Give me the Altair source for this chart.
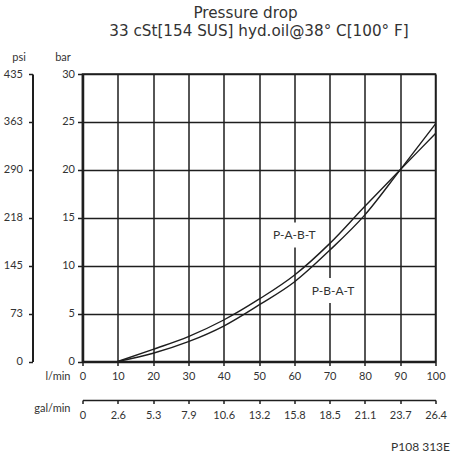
import altair as alt
import pandas as pd

# ---- data ----
flow_lpm = [10, 20, 30, 40, 50, 60, 70, 80, 90, 100]
dp_pabt = [0, 1.27, 2.6, 4.33, 6.5, 9.0, 12.3, 16.2, 20.0, 23.8]   # P-A-B-T
dp_pbat = [0, 0.86, 2.07, 3.7, 5.9, 8.3, 11.6, 15.3, 20.0, 24.8]   # P-B-A-T

x_ticks = [0, 10, 20, 30, 40, 50, 60, 70, 80, 90, 100]
gal_labels = ["0", "2.6", "5.3", "7.9", "10.6", "13.2", "15.8", "18.5", "21.1", "23.7", "26.4"]
bar_ticks = [0, 5, 10, 15, 20, 25, 30]
psi_labels = ["0", "73", "145", "218", "290", "363", "435"]

label_names = ["P-A-B-T", "P-B-A-T"]
label_x = [60, 71]
label_y = [13.2, 7.4]

FONT = "Lato"
TFONT = "DejaVu Sans"
DARK = "#1e1e1e"

rows = []
for f, a, b in zip(flow_lpm, dp_pabt, dp_pbat):
    rows.append({"flow": f, "dp": a, "series": "P-A-B-T"})
    rows.append({"flow": f, "dp": b, "series": "P-B-A-T"})
curves = pd.DataFrame(rows)
labels = pd.DataFrame({"name": label_names, "flow": label_x, "dp": label_y})

xs = alt.Scale(domain=[0, 100], nice=False, zero=False)
ys = alt.Scale(domain=[0, 30], nice=False, zero=False)

gal_expr = "[" + ",".join("'%s'" % s for s in gal_labels) + "][round(datum.value/10)]"
psi_expr = "[" + ",".join("'%s'" % s for s in psi_labels) + "][round(datum.value/5)]"

lines = alt.Chart(curves).mark_line(
    interpolate="monotone", color=DARK, strokeWidth=1.4
).encode(
    x=alt.X("flow:Q", scale=xs, axis=alt.Axis(
        orient="bottom", values=x_ticks, format="d", grid=True,
        gridColor=DARK, gridWidth=1.5, gridOpacity=1,
        domainColor=DARK, domainWidth=2, tickColor=DARK, tickWidth=1.5,
        tickSize=4, labelPadding=5, labelFontSize=11, labelColor="#333",
        labelFont=FONT, title="l/min", titleFont=FONT, titleFontSize=11,
        titleFontWeight="normal", titleColor="#333", titleX=-12.5, titleY=15,
        titleAlign="right", titleBaseline="middle", titleAngle=0,
        labelFlush=False, labelOverlap=False)),
    y=alt.Y("dp:Q", scale=ys, axis=alt.Axis(
        orient="left", values=bar_ticks, grid=True,
        gridColor=DARK, gridWidth=1.5, gridOpacity=1,
        domainColor=DARK, domainWidth=2.5, tickColor=DARK, tickWidth=1.5,
        tickSize=5, labelPadding=3, labelFontSize=11, labelColor="#333",
        labelFont=FONT, title="bar", titleFont=FONT, titleFontSize=11,
        titleFontWeight="normal", titleColor="#333", titleX=-20, titleY=-17,
        titleAlign="center", titleBaseline="middle", titleAngle=0,
        labelFlush=False, labelOverlap=False)),
    detail="series:N",
)

second = alt.Chart(curves).mark_line(opacity=0).encode(
    x=alt.X("flow:Q", scale=xs, axis=alt.Axis(
        orient="bottom", offset=38.5, values=x_ticks, labelExpr=gal_expr,
        grid=False, domainColor=DARK, domainWidth=1.5, tickColor=DARK,
        tickWidth=1.5, tickSize=3.5, labelPadding=6, labelFontSize=11,
        labelColor="#333", labelFont=FONT, title="gal/min", titleFont=FONT,
        titleFontSize=11, titleFontWeight="normal", titleColor="#333",
        titleX=-12.5, titleY=8, titleAlign="right", titleBaseline="middle",
        titleAngle=0, labelFlush=False, labelOverlap=False)),
    y=alt.Y("dp:Q", scale=ys, axis=alt.Axis(
        orient="left", offset=50, values=bar_ticks, labelExpr=psi_expr,
        grid=False, domainColor=DARK, domainWidth=2, tickColor=DARK,
        tickWidth=1.5, tickSize=4, labelPadding=6, labelFontSize=11,
        labelColor="#333", labelFont=FONT, title="psi", titleFont=FONT,
        titleFontSize=11, titleFontWeight="normal", titleColor="#333",
        titleX=-14, titleY=-17, titleAlign="center", titleBaseline="middle",
        titleAngle=0, labelFlush=False, labelOverlap=False)),
    detail="series:N",
)

boxes = alt.Chart(labels).mark_point(
    shape="M-1,-0.5L1,-0.5L1,0.5L-1,0.5Z", filled=True, fill="white",
    opacity=1, size=2500, strokeWidth=0
).encode(
    x=alt.X("flow:Q", scale=xs, axis=None),
    y=alt.Y("dp:Q", scale=ys, axis=None),
)

texts = alt.Chart(labels).mark_text(
    font=FONT, fontSize=12, color="#333"
).encode(
    x=alt.X("flow:Q", scale=xs, axis=None),
    y=alt.Y("dp:Q", scale=ys, axis=None),
    text="name:N",
)

ann = pd.DataFrame({"t": ["Pressure drop", "33 cSt[154 SUS] hyd.oil@38° C[100° F]", "P108 313E"],
                    "px": [163, 176.5, 367.5], "py": [-61.5, -43.5, 373]})

t1 = alt.Chart(ann.iloc[[0, 1]]).mark_text(font=TFONT, fontSize=15.2, color="#333").encode(
    x=alt.X("px:Q", scale=None), y=alt.Y("py:Q", scale=None), text="t:N")
t2 = alt.Chart(ann.iloc[[2]]).mark_text(font=FONT, fontSize=12, color="#333", align="right").encode(
    x=alt.X("px:Q", scale=None), y=alt.Y("py:Q", scale=None), text="t:N")

chart = alt.layer(lines, second, boxes, texts, t1, t2).resolve_scale(
    x="independent", y="independent"
).properties(
    width=353, height=287.5,
    autosize=alt.AutoSizeParams(type="none"),
    padding={"left": 82.5, "top": 74, "right": 16.5, "bottom": 98.5},
    background="white",
).configure_view(stroke=DARK, strokeWidth=1.5)

chart.save("out.html", embed_options={"renderer": "svg", "actions": False})
